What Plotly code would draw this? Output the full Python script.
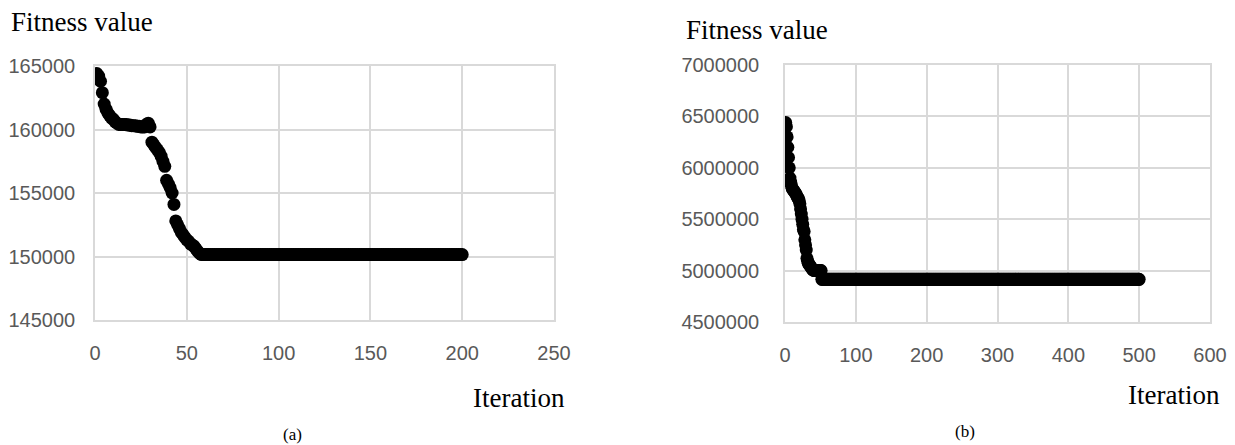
import plotly.graph_objects as go

# ---------------- data ----------------
# (a) descent phase, iterations 1..57
a_iter_desc = list(range(1, 58))
a_fit_desc = [164400, 164200, 163800, 162900, 162000, 161600, 161300, 161100, 160900, 160800,
              160600, 160500, 160400, 160400, 160400, 160400, 160400, 160350, 160350, 160300,
              160300, 160300, 160250, 160250, 160200, 160200, 160200, 160400, 160500, 160200,
              159000, 158800, 158600, 158400, 158200, 157900, 157500, 157100, 156000, 155700,
              155400, 155000, 154100, 152800, 152500, 152200, 151900, 151700, 151500, 151300,
              151200, 151000, 150900, 150800, 150600, 150400, 150250]
a_plateau_start, a_plateau_end = 58, 200
a_plateau_value = 150150

# (b) descent phase, iterations 1..51
b_iter_desc = list(range(1, 52))
b_fit_desc = [6440000, 6400000, 6300000, 6200000, 6100000, 6000000, 5900000, 5860000, 5830000, 5800000,
              5790000, 5780000, 5770000, 5760000, 5750000, 5740000, 5720000, 5710000, 5700000, 5680000,
              5650000, 5600000, 5550000, 5500000, 5450000, 5400000, 5380000, 5300000, 5250000, 5200000,
              5120000, 5090000, 5070000, 5060000, 5050000, 5040000, 5030000, 5020000, 5010000, 5010000,
              5000000, 5000000, 5000000, 5000000, 5000000, 5000000, 5000000, 5000000, 5000000, 5000000,
              5000000]
b_plateau_start, b_plateau_end = 52, 500
b_plateau_value = 4915000

a_xticks = [0, 50, 100, 150, 200, 250]
a_yticks = [145000, 150000, 155000, 160000, 165000]
b_xticks = [0, 100, 200, 300, 400, 500, 600]
b_yticks = [4500000, 5000000, 5500000, 6000000, 6500000, 7000000]

# ---------------- build series ----------------
a_x = a_iter_desc + list(range(a_plateau_start, a_plateau_end + 1))
a_y = a_fit_desc + [a_plateau_value] * (a_plateau_end - a_plateau_start + 1)
b_x = b_iter_desc + list(range(b_plateau_start, b_plateau_end + 1))
b_y = b_fit_desc + [b_plateau_value] * (b_plateau_end - b_plateau_start + 1)

# page has an 8px body margin, so the figure is slightly smaller than the window
OFF = 8
W, H = 1235 - OFF, 445 - OFF
GRID = "#d9d9d9"
TICKC = "#595959"
TICKFONT = dict(family="Liberation Sans, Arial, sans-serif", size=20, color=TICKC)
SERIF = "Liberation Serif, Times New Roman, serif"

fig = go.Figure()
marker = dict(color="black", size=13, line=dict(width=0))
fig.add_trace(go.Scatter(x=a_x, y=a_y, mode="markers", marker=marker,
                         xaxis="x", yaxis="y", showlegend=False, hoverinfo="x+y"))
fig.add_trace(go.Scatter(x=b_x, y=b_y, mode="markers", marker=marker,
                         xaxis="x2", yaxis="y2", showlegend=False, hoverinfo="x+y"))

def px_x(p):
    return (p - OFF) / W

def px_y(p):
    return 1 - (p - OFF) / H

axis_common = dict(showgrid=True, gridcolor=GRID, gridwidth=1.5, zeroline=False,
                   showline=True, linecolor=GRID, linewidth=1.5, mirror=True,
                   ticks="", tickfont=TICKFONT, fixedrange=True, automargin=False)

fig.update_layout(
    width=W, height=H,
    margin=dict(l=0, r=0, t=0, b=0, autoexpand=False),
    paper_bgcolor="white", plot_bgcolor="white",
    xaxis=dict(domain=[px_x(95), px_x(554)], range=[0, 250], tickvals=a_xticks,
               ticktext=[str(v) for v in a_xticks],
               anchor="y", ticklabelstandoff=14, **axis_common),
    yaxis=dict(domain=[px_y(320), px_y(66)], range=[145000, 165000], tickvals=a_yticks,
               ticktext=[str(v) for v in a_yticks],
               anchor="x", ticklabelstandoff=14, **axis_common),
    xaxis2=dict(domain=[px_x(785), px_x(1210)], range=[0, 600], tickvals=b_xticks,
                ticktext=[str(v) for v in b_xticks],
                anchor="y2", ticklabelstandoff=14, **axis_common),
    yaxis2=dict(domain=[px_y(322), px_y(65)], range=[4500000, 7000000], tickvals=b_yticks,
                ticktext=[str(v) for v in b_yticks],
                anchor="x2", ticklabelstandoff=20, **axis_common),
    annotations=[
        dict(text="Fitness value", x=px_x(9), y=px_y(22), xref="paper", yref="paper",
             xanchor="left", yanchor="middle", showarrow=False,
             font=dict(family=SERIF, size=27, color="black")),
        dict(text="Fitness value", x=px_x(684), y=px_y(30), xref="paper", yref="paper",
             xanchor="left", yanchor="middle", showarrow=False,
             font=dict(family=SERIF, size=27, color="black")),
        dict(text="Iteration", x=px_x(567), y=px_y(398), xref="paper", yref="paper",
             xanchor="right", yanchor="middle", showarrow=False,
             font=dict(family=SERIF, size=27, color="black")),
        dict(text="Iteration", x=px_x(1222), y=px_y(395), xref="paper", yref="paper",
             xanchor="right", yanchor="middle", showarrow=False,
             font=dict(family=SERIF, size=27, color="black")),
        dict(text="(a)", x=px_x(292), y=px_y(434), xref="paper", yref="paper",
             xanchor="center", yanchor="middle", showarrow=False,
             font=dict(family=SERIF, size=17, color="black")),
        dict(text="(b)", x=px_x(965), y=px_y(431), xref="paper", yref="paper",
             xanchor="center", yanchor="middle", showarrow=False,
             font=dict(family=SERIF, size=17, color="black")),
    ],
)

fig.write_html("out.html")
